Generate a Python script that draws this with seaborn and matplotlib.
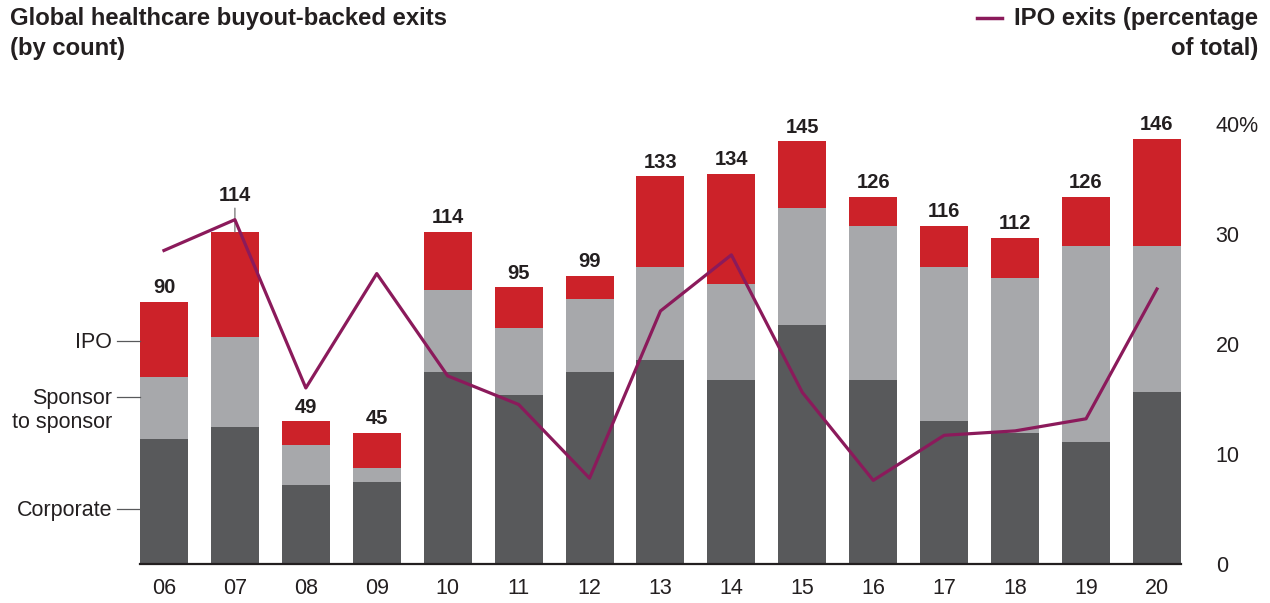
import numpy as np
import matplotlib
matplotlib.use("Agg")
import matplotlib.pyplot as plt
from matplotlib.lines import Line2D
import seaborn as sns

plt.rcParams['font.family'] = ['Liberation Sans', 'DejaVu Sans']

# Data
years = ["06", "07", "08", "09", "10", "11", "12", "13", "14", "15", "16", "17", "18", "19", "20"]
corporate = [43, 47, 27, 28, 66, 58, 66, 70, 63, 82, 63, 49, 45, 42, 59]
sponsor = [21, 31, 14, 5, 28, 23, 25, 32, 33, 40, 53, 53, 53, 67, 50]
ipo = [26, 36, 8, 12, 20, 14, 8, 31, 38, 23, 10, 14, 14, 17, 37]
totals = [90, 114, 49, 45, 114, 95, 99, 133, 134, 145, 126, 116, 112, 126, 146]
ipo_share = [28.5, 31.3, 16.0, 26.4, 17.1, 14.5, 7.8, 23.0, 28.1, 15.6, 7.6, 11.7, 12.1, 13.2, 25.0]

dark = '#58595b'
light = '#a7a8ab'
red = '#cc2229'
purple = '#8b1a5b'
ink = '#231f20'

corp_arr = np.array(corporate)
s2s_top = corp_arr + np.array(sponsor)
ipo_top = s2s_top + np.array(ipo)

fig = plt.figure(figsize=(12.7, 6.03), dpi=100)
ax = fig.add_axes([0.1102, 0.0647, 0.8197, 0.7297])

bw = 0.677
# stacked bars drawn as cumulative layers
sns.barplot(x=years, y=ipo_top, color=red, width=bw, saturation=1, linewidth=0, errorbar=None, ax=ax)
sns.barplot(x=years, y=s2s_top, color=light, width=bw, saturation=1, linewidth=0, errorbar=None, ax=ax)
sns.barplot(x=years, y=corp_arr, color=dark, width=bw, saturation=1, linewidth=0, errorbar=None, ax=ax)

ax.set_ylim(0, 151)
ax.set_yticks([])
ax.set_xlabel('')
ax.set_ylabel('')
for s in ['top', 'right', 'left']:
    ax.spines[s].set_visible(False)
ax.spines['bottom'].set_color(ink)
ax.spines['bottom'].set_linewidth(1.6)
ax.tick_params(axis='x', length=0, pad=10, labelsize=15.5, labelcolor=ink)

# totals on top of the bars
for i, t in enumerate(totals):
    if i == 1:
        ax.annotate(str(t), xy=(i, t), xytext=(0, 19), textcoords='offset points',
                    ha='center', va='bottom', fontsize=14.5, fontweight='bold', color=ink,
                    arrowprops=dict(arrowstyle='-', color='#808080', lw=1, shrinkA=0, shrinkB=0))
    else:
        ax.annotate(str(t), xy=(i, t), xytext=(0, 3.3), textcoords='offset points',
                    ha='center', va='bottom', fontsize=14.5, fontweight='bold', color=ink)

# segment labels on the left of the first bar (leader line at the first text line)
x_left = -bw / 2
seg_labels = ["IPO", "Sponsor\nto sponsor", "Corporate"]
seg_y = [76.6, 57.4, 18.9]
for lab, y in zip(seg_labels, seg_y):
    extra = lab.count("\n") * 17.2
    ax.plot([x_left - 0.324, x_left], [y, y], color=dark, lw=0.9, clip_on=False)
    ax.annotate(lab, xy=(x_left - 0.324, y), xytext=(-3.6, -5 - extra), textcoords='offset points',
                ha='right', va='baseline', fontsize=15.5, color=ink, linespacing=1.15,
                annotation_clip=False)

# IPO share line on the right axis
ax2 = ax.twinx()
sns.lineplot(x=np.arange(len(years)), y=ipo_share, ax=ax2, color=purple, linewidth=2.3)
ax2.set_ylim(0, 40)
ax2.set_yticks([0, 10, 20, 30, 40])
ax2.set_yticklabels(['0', '10', '20', '30', '40%'])
ax2.tick_params(axis='y', length=0, pad=25, labelsize=15.5, labelcolor=ink)
ax2.set_xlabel('')
ax2.set_ylabel('')
for s in ax2.spines.values():
    s.set_visible(False)
ax.set_xlim(-bw / 2, len(years) - 1 + bw / 2)

# title and legend
fig.text(10 / 1270, 1 - 7 / 603, "Global healthcare buyout-backed exits\n(by count)",
         ha='left', va='top', fontsize=17.2, fontweight='bold', color=ink, linespacing=1.4)
fig.text(1258 / 1270, 1 - 7 / 603, "IPO exits (percentage\nof total)",
         ha='right', va='top', fontsize=17.2, fontweight='bold', color=ink, linespacing=1.4)
fig.add_artist(Line2D([977 / 1270, 1002 / 1270], [1 - 18 / 603, 1 - 18 / 603],
                      transform=fig.transFigure, color=purple, lw=2.5))

fig.savefig('out.png', dpi=100)
